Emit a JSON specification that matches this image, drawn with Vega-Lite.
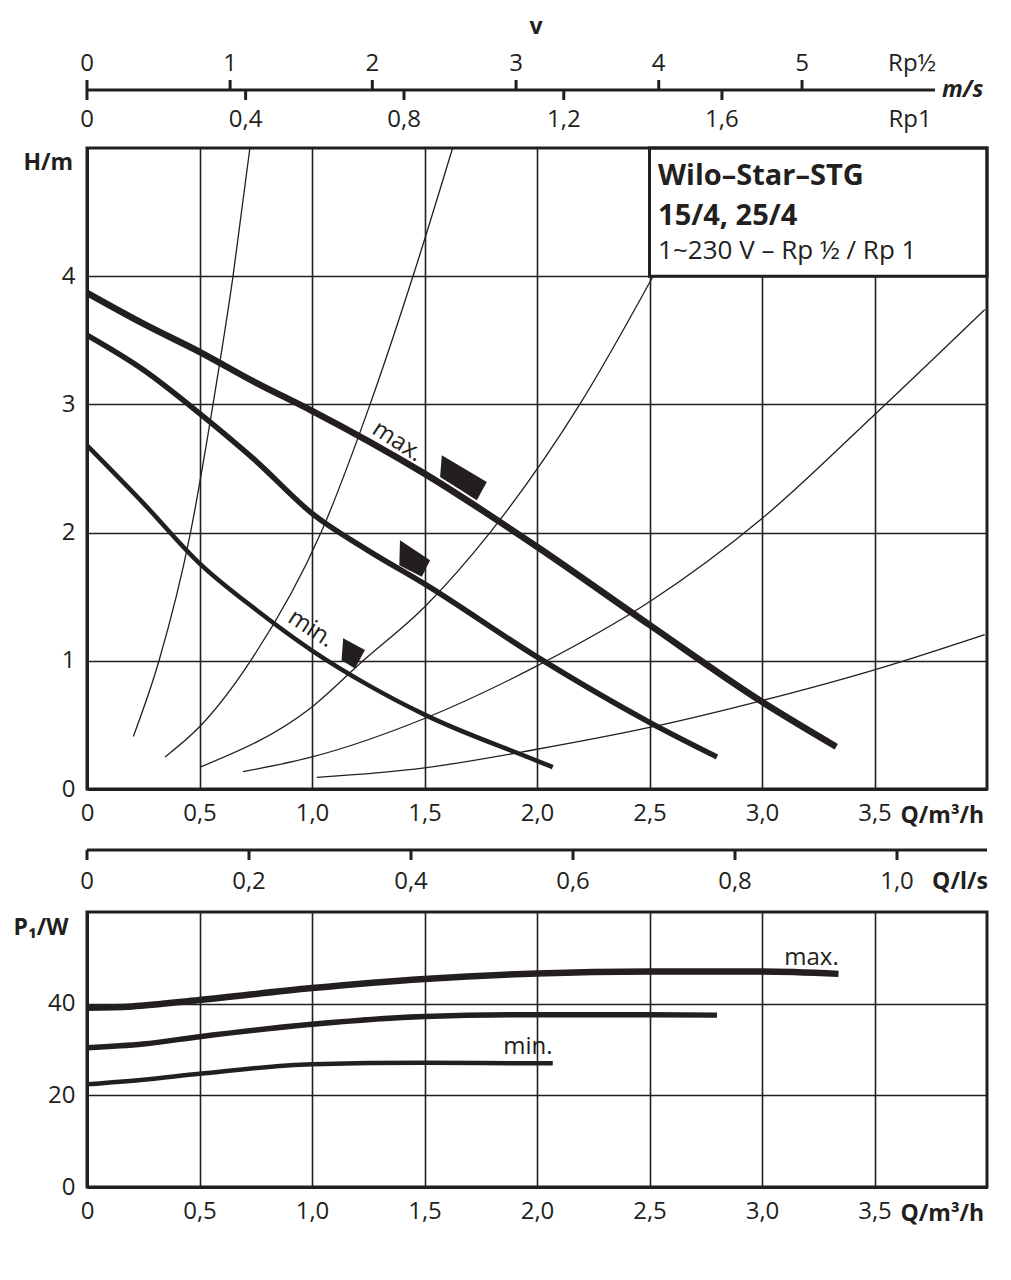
{
  "$schema": "https://vega.github.io/schema/vega-lite/v6.json",
  "background": "white",
  "padding": {"left": 13, "top": 16, "right": 10, "bottom": 10},
  "config": {
    "font": "Open Sans",
    "axis": {
      "labelFont": "Open Sans", "labelFontSize": 24, "labelColor": "#231f20",
      "labelFlush": false, "labelOverlap": false, "labelBound": false,
      "titleFont": "Open Sans", "titleFontSize": 23, "titleFontWeight": "bold", "titleColor": "#231f20",
      "gridColor": "#231f20", "gridWidth": 1.6, "gridOpacity": 1,
      "domainColor": "#231f20", "domainWidth": 3,
      "tickColor": "#231f20", "tickWidth": 3
    },
    "text": {"font": "Open Sans", "color": "#231f20"},
    "view": {"stroke": null}
  },
  "spacing": 48,
  "bounds": "flush",
  "vconcat": [
    {
      "width": 900,
      "height": 20,
      "encoding": {
        "x": {"field": "Q", "type": "quantitative", "scale": {"domain": [0, 4], "nice": false, "zero": false}, "axis": null},
        "y": {"datum": 0, "type": "quantitative", "scale": {"domain": [-1, 1], "nice": false, "zero": false}, "axis": null}
      },
      "layer": [
        {
          "data": {"values": [{"Q": 0, "Q2": 3.769}]},
          "mark": {"type": "rule", "color": "#231f20", "strokeWidth": 3},
          "encoding": {"x2": {"field": "Q2"}}
        },
        {
          "data": {"values": [{"v": "0", "Q": 0}, {"v": "1", "Q": 0.636}, {"v": "2", "Q": 1.268}, {"v": "3", "Q": 1.907}, {"v": "4", "Q": 2.541}, {"v": "5", "Q": 3.178}]},
          "mark": {"type": "rule", "color": "#231f20", "strokeWidth": 3},
          "encoding": {"y2": {"datum": 1}}
        },
        {
          "data": {"values": [{"v": "0", "Q": 0}, {"v": "1", "Q": 0.636}, {"v": "2", "Q": 1.268}, {"v": "3", "Q": 1.907}, {"v": "4", "Q": 2.541}, {"v": "5", "Q": 3.178}, {"v": "Rp½", "Q": 3.667}]},
          "mark": {"type": "text", "align": "center", "baseline": "middle", "dy": -26, "fontSize": 24},
          "encoding": {"text": {"field": "v"}}
        },
        {
          "data": {"values": [{"v": "0", "Q": 0}, {"v": "0,4", "Q": 0.705}, {"v": "0,8", "Q": 1.409}, {"v": "1,2", "Q": 2.119}, {"v": "1,6", "Q": 2.822}]},
          "mark": {"type": "rule", "color": "#231f20", "strokeWidth": 3},
          "encoding": {"y2": {"datum": -1}}
        },
        {
          "data": {"values": [{"v": "0", "Q": 0}, {"v": "0,4", "Q": 0.705}, {"v": "0,8", "Q": 1.409}, {"v": "1,2", "Q": 2.119}, {"v": "1,6", "Q": 2.822}, {"v": "Rp1", "Q": 3.658}]},
          "mark": {"type": "text", "align": "center", "baseline": "middle", "dy": 30, "fontSize": 24},
          "encoding": {"text": {"field": "v"}}
        },
        {
          "data": {"values": [{"u": "m/s", "Q": 3.8}]},
          "mark": {"type": "text", "align": "left", "baseline": "middle", "fontSize": 23, "fontWeight": "bold", "fontStyle": "italic"},
          "encoding": {"text": {"field": "u"}}
        },
        {
          "data": {"values": [{"u": "v", "Q": 1.996}]},
          "mark": {"type": "text", "align": "center", "baseline": "middle", "dy": -63, "fontSize": 23, "fontWeight": "bold"},
          "encoding": {"text": {"field": "u"}}
        }
      ]
    },
    {
      "width": 900,
      "height": 641,
      "encoding": {
        "x": {"field": "Q", "type": "quantitative", "scale": {"domain": [0, 4], "nice": false, "zero": false},
          "axis": {"values": [0, 0.5, 1, 1.5, 2, 2.5, 3, 3.5], "grid": true, "ticks": false, "tickSize": 0, "labelPadding": 12,
            "labelExpr": "datum.value == 0 ? '0' : replace(format(datum.value, '.1f'), '.', ',')",
            "title": "Q/m³/h", "titleX": 813, "titleY": 26, "titleAlign": "left", "titleBaseline": "middle", "titleAngle": 0}},
        "y": {"field": "H", "type": "quantitative", "scale": {"domain": [0, 5], "nice": false, "zero": false},
          "axis": {"values": [0, 1, 2, 3, 4], "grid": true, "ticks": false, "tickSize": 0, "labelPadding": 12,
            "title": "H/m", "titleX": -64, "titleY": 14, "titleAlign": "left", "titleBaseline": "middle", "titleAngle": 0}}
      },
      "layer": [
        {
          "data": {"values": [
            {"sys": "a", "Q": 0.206, "H": 0.41}, {"sys": "a", "Q": 0.32, "H": 1.0}, {"sys": "a", "Q": 0.46, "H": 2.0}, {"sys": "a", "Q": 0.56, "H": 3.0}, {"sys": "a", "Q": 0.649, "H": 4.0}, {"sys": "a", "Q": 0.724, "H": 5.0},
            {"sys": "b", "Q": 0.347, "H": 0.25}, {"sys": "b", "Q": 0.5, "H": 0.485}, {"sys": "b", "Q": 0.727, "H": 1.0}, {"sys": "b", "Q": 1.04, "H": 2.0}, {"sys": "b", "Q": 1.258, "H": 3.0}, {"sys": "b", "Q": 1.458, "H": 4.05}, {"sys": "b", "Q": 1.625, "H": 5.0},
            {"sys": "c", "Q": 0.502, "H": 0.17}, {"sys": "c", "Q": 1.0, "H": 0.64}, {"sys": "c", "Q": 1.227, "H": 1.0}, {"sys": "c", "Q": 1.5, "H": 1.42}, {"sys": "c", "Q": 1.791, "H": 2.0}, {"sys": "c", "Q": 2.19, "H": 3.0}, {"sys": "c", "Q": 2.516, "H": 4.0}, {"sys": "c", "Q": 2.82, "H": 5.0},
            {"sys": "d", "Q": 0.693, "H": 0.135}, {"sys": "d", "Q": 1.0, "H": 0.25}, {"sys": "d", "Q": 1.5, "H": 0.55}, {"sys": "d", "Q": 2.0, "H": 0.96}, {"sys": "d", "Q": 2.5, "H": 1.46}, {"sys": "d", "Q": 3.0, "H": 2.11}, {"sys": "d", "Q": 3.5, "H": 2.92}, {"sys": "d", "Q": 3.99, "H": 3.74},
            {"sys": "e", "Q": 1.021, "H": 0.09}, {"sys": "e", "Q": 1.5, "H": 0.165}, {"sys": "e", "Q": 2.0, "H": 0.31}, {"sys": "e", "Q": 2.5, "H": 0.48}, {"sys": "e", "Q": 3.0, "H": 0.69}, {"sys": "e", "Q": 3.5, "H": 0.93}, {"sys": "e", "Q": 3.99, "H": 1.205}
          ]},
          "mark": {"type": "line", "interpolate": "monotone", "color": "#231f20", "strokeWidth": 1.3},
          "encoding": {"detail": {"field": "sys", "type": "nominal"}}
        },
        {
          "data": {"values": [
            {"level": "max", "Q": 0, "H": 3.87}, {"level": "max", "Q": 0.25, "H": 3.63}, {"level": "max", "Q": 0.5, "H": 3.41}, {"level": "max", "Q": 0.75, "H": 3.17}, {"level": "max", "Q": 1.0, "H": 2.95}, {"level": "max", "Q": 1.5, "H": 2.46}, {"level": "max", "Q": 2.0, "H": 1.89}, {"level": "max", "Q": 2.5, "H": 1.28}, {"level": "max", "Q": 3.0, "H": 0.68}, {"level": "max", "Q": 3.33, "H": 0.33},
            {"level": "mid", "Q": 0, "H": 3.54}, {"level": "mid", "Q": 0.25, "H": 3.27}, {"level": "mid", "Q": 0.5, "H": 2.93}, {"level": "mid", "Q": 0.75, "H": 2.56}, {"level": "mid", "Q": 1.0, "H": 2.15}, {"level": "mid", "Q": 1.25, "H": 1.86}, {"level": "mid", "Q": 1.5, "H": 1.6}, {"level": "mid", "Q": 2.0, "H": 1.03}, {"level": "mid", "Q": 2.5, "H": 0.52}, {"level": "mid", "Q": 2.8, "H": 0.25},
            {"level": "min", "Q": 0, "H": 2.68}, {"level": "min", "Q": 0.25, "H": 2.23}, {"level": "min", "Q": 0.5, "H": 1.76}, {"level": "min", "Q": 0.75, "H": 1.4}, {"level": "min", "Q": 1.0, "H": 1.08}, {"level": "min", "Q": 1.25, "H": 0.81}, {"level": "min", "Q": 1.5, "H": 0.58}, {"level": "min", "Q": 2.0, "H": 0.22}, {"level": "min", "Q": 2.07, "H": 0.17}
          ]},
          "mark": {"type": "line", "interpolate": "monotone", "color": "#231f20", "strokeCap": "butt"},
          "encoding": {
            "detail": {"field": "level", "type": "nominal"},
            "strokeWidth": {"field": "level", "type": "nominal", "scale": {"domain": ["max", "mid", "min"], "range": [6.5, 4.5, 6.5]}, "legend": null}
          }
        },
        {
          "data": {"values": [{"Q": 2.5, "Q2": 4.0, "H": 4.0, "H2": 5.0}]},
          "mark": {"type": "rect", "fill": "white", "stroke": "#231f20", "strokeWidth": 3},
          "encoding": {"x2": {"field": "Q2"}, "y2": {"field": "H2"}}
        },
        {
          "data": {"values": [{"t": "Wilo–Star–STG", "Q": 2.538, "H": 4.708}, {"t": "15/4, 25/4", "Q": 2.538, "H": 4.396}]},
          "mark": {"type": "text", "align": "left", "baseline": "alphabetic", "fontSize": 29, "fontWeight": "bold"},
          "encoding": {"text": {"field": "t"}}
        },
        {
          "data": {"values": [{"t": "1~230 V – Rp ½ / Rp 1", "Q": 2.538, "H": 4.136}]},
          "mark": {"type": "text", "align": "left", "baseline": "alphabetic", "fontSize": 26},
          "encoding": {"text": {"field": "t"}}
        },
        {
          "data": {"values": [{"t": "max.", "Q": 1.38, "H": 2.71}, {"t": "min.", "Q": 0.995, "H": 1.25}]},
          "mark": {"type": "text", "align": "center", "baseline": "middle", "fontSize": 24, "angle": 33},
          "encoding": {"text": {"field": "t"}}
        },
        {
          "data": {"values": [{"level": "max", "Q": 1.664, "H": 2.421}, {"level": "mid", "Q": 1.448, "H": 1.782}, {"level": "min", "Q": 1.174, "H": 1.051}]},
          "mark": {"type": "point", "filled": true, "size": 400, "color": "#231f20", "opacity": 1},
          "encoding": {
            "shape": {"field": "level", "type": "nominal", "legend": null,
              "scale": {"domain": ["max", "mid", "min"], "range": ["M -1.96 -2.34 L 2.54 0.33 L 1.54 2.16 L -2.13 -0.17 Z", "M -1.28 -2.04 L 1.73 -0.04 L 0.9 1.63 L -1.35 0.46 Z", "M -0.8 -1.59 L 1.38 -0.42 L 0.38 1.42 L -0.96 0.59 Z"]}}
          }
        },
        {
          "data": {"values": [{"Q": 0, "Q2": 4.0, "H": 0, "H2": 5.0}]},
          "mark": {"type": "rect", "filled": false, "stroke": "#231f20", "strokeWidth": 3},
          "encoding": {"x2": {"field": "Q2"}, "y2": {"field": "H2"}}
        }
      ]
    },
    {
      "width": 900,
      "height": 27,
      "encoding": {
        "x": {"field": "Q", "type": "quantitative", "scale": {"domain": [0, 4], "nice": false, "zero": false}, "axis": null},
        "y": {"datum": 0, "type": "quantitative", "scale": {"domain": [-1.4, 1.3], "nice": false, "zero": false}, "axis": null}
      },
      "layer": [
        {
          "data": {"values": [{"Q": 0, "Q2": 4.0}]},
          "mark": {"type": "rule", "color": "#231f20", "strokeWidth": 3},
          "encoding": {"x2": {"field": "Q2"}}
        },
        {
          "data": {"values": [{"v": "0", "Q": 0}, {"v": "0,2", "Q": 0.72}, {"v": "0,4", "Q": 1.44}, {"v": "0,6", "Q": 2.16}, {"v": "0,8", "Q": 2.88}, {"v": "1,0", "Q": 3.6}]},
          "mark": {"type": "rule", "color": "#231f20", "strokeWidth": 3},
          "encoding": {"y2": {"datum": -1}}
        },
        {
          "data": {"values": [{"v": "0", "Q": 0}, {"v": "0,2", "Q": 0.72}, {"v": "0,4", "Q": 1.44}, {"v": "0,6", "Q": 2.16}, {"v": "0,8", "Q": 2.88}, {"v": "1,0", "Q": 3.6}]},
          "mark": {"type": "text", "align": "center", "baseline": "middle", "dy": 32, "fontSize": 24},
          "encoding": {"text": {"field": "v"}}
        },
        {
          "data": {"values": [{"u": "Q/l/s", "Q": 3.756}]},
          "mark": {"type": "text", "align": "left", "baseline": "middle", "dy": 32, "fontSize": 23, "fontWeight": "bold"},
          "encoding": {"text": {"field": "u"}}
        }
      ]
    },
    {
      "width": 900,
      "height": 275,
      "encoding": {
        "x": {"field": "Q", "type": "quantitative", "scale": {"domain": [0, 4], "nice": false, "zero": false},
          "axis": {"values": [0, 0.5, 1, 1.5, 2, 2.5, 3, 3.5], "grid": true, "ticks": false, "tickSize": 0, "labelPadding": 12,
            "labelExpr": "datum.value == 0 ? '0' : replace(format(datum.value, '.1f'), '.', ',')",
            "title": "Q/m³/h", "titleX": 813, "titleY": 26, "titleAlign": "left", "titleBaseline": "middle", "titleAngle": 0}},
        "y": {"field": "P", "type": "quantitative", "scale": {"domain": [0, 60], "nice": false, "zero": false},
          "axis": {"values": [0, 20, 40], "grid": true, "ticks": false, "tickSize": 0, "labelPadding": 12,
            "title": "P₁/W", "titleX": -74, "titleY": 15, "titleAlign": "left", "titleBaseline": "middle", "titleAngle": 0}}
      },
      "layer": [
        {
          "data": {"values": [
            {"level": "max", "Q": 0, "P": 39.1}, {"level": "max", "Q": 0.2, "P": 39.4}, {"level": "max", "Q": 0.5, "P": 40.8}, {"level": "max", "Q": 1.0, "P": 43.4}, {"level": "max", "Q": 1.5, "P": 45.4}, {"level": "max", "Q": 2.0, "P": 46.6}, {"level": "max", "Q": 2.5, "P": 47.0}, {"level": "max", "Q": 3.0, "P": 47.0}, {"level": "max", "Q": 3.34, "P": 46.5},
            {"level": "mid", "Q": 0, "P": 30.4}, {"level": "mid", "Q": 0.25, "P": 31.2}, {"level": "mid", "Q": 0.5, "P": 32.8}, {"level": "mid", "Q": 1.0, "P": 35.5}, {"level": "mid", "Q": 1.5, "P": 37.2}, {"level": "mid", "Q": 2.0, "P": 37.6}, {"level": "mid", "Q": 2.5, "P": 37.6}, {"level": "mid", "Q": 2.8, "P": 37.5},
            {"level": "min", "Q": 0, "P": 22.4}, {"level": "min", "Q": 0.25, "P": 23.4}, {"level": "min", "Q": 0.5, "P": 24.7}, {"level": "min", "Q": 1.0, "P": 26.8}, {"level": "min", "Q": 1.5, "P": 27.1}, {"level": "min", "Q": 2.0, "P": 27.0}, {"level": "min", "Q": 2.07, "P": 27.0}
          ]},
          "mark": {"type": "line", "interpolate": "monotone", "color": "#231f20", "strokeCap": "butt"},
          "encoding": {
            "detail": {"field": "level", "type": "nominal"},
            "strokeWidth": {"field": "level", "type": "nominal", "scale": {"domain": ["max", "mid", "min"], "range": [6, 4, 6]}, "legend": null}
          }
        },
        {
          "data": {"values": [{"t": "max.", "Q": 3.22, "P": 50.0}, {"t": "min.", "Q": 1.96, "P": 30.6}]},
          "mark": {"type": "text", "align": "center", "baseline": "middle", "fontSize": 24},
          "encoding": {"text": {"field": "t"}}
        },
        {
          "data": {"values": [{"Q": 0, "Q2": 4.0, "P": 0, "P2": 60}]},
          "mark": {"type": "rect", "filled": false, "stroke": "#231f20", "strokeWidth": 3},
          "encoding": {"x2": {"field": "Q2"}, "y2": {"field": "P2"}}
        }
      ]
    }
  ]
}
